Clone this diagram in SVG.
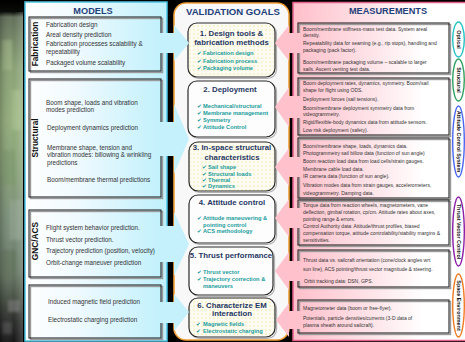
<svg xmlns="http://www.w3.org/2000/svg" width="465" height="342" viewBox="0 0 465 342">
  <defs>
    <style>
      .ptitle { font-family: 'Liberation Sans', Arial, sans-serif; font-weight: bold; font-size: 9.2px; fill: #1f3f7a; text-anchor: middle; }
      .mtxt { font-family: 'Liberation Sans', Arial, sans-serif; font-size: 6.3px; fill: #333; }
      .stxt { font-family: 'Liberation Sans', Arial, sans-serif; font-size: 5px; fill: #333; }
      .seclbl { font-family: 'Liberation Sans', Arial, sans-serif; font-weight: bold; font-size: 8.3px; fill: #111; text-anchor: middle; }
      .gtitle { font-family: 'Liberation Sans', Arial, sans-serif; font-weight: bold; font-size: 7.8px; fill: #1f3864; text-anchor: middle; }
      .gitem { font-family: 'Liberation Sans', Arial, 'DejaVu Sans', sans-serif; font-weight: bold; font-size: 5.7px; fill: #1a9c9c; }
      .chk { font-family: 'DejaVu Sans', sans-serif; font-size: 5.6px; fill: #1a9c9c; }
      .box { fill: none; stroke: #262626; stroke-width: 1.1; }
      .shadow { fill: none; stroke: #9a9a9a; stroke-width: 1.4; }
      .goal { stroke: #2a2a2a; stroke-width: 1.2; }
      .goalshadow { fill: none; stroke: #b0b0b0; stroke-width: 1.2; }
      .ovl { fill: #fff; stroke-width: 1.4; }
      .ovltxt { font-family: 'Liberation Sans', Arial, sans-serif; font-weight: bold; font-size: 5.4px; fill: #111; text-anchor: middle; }
      .cyan { fill: #c4f1fc; }
      .pink { fill: #ffc2cc; }
    </style>
    <linearGradient id="stripGrad" x1="0" y1="0" x2="0" y2="1">
      <stop offset="0" stop-color="#000"/>
      <stop offset="0.035" stop-color="#0a0c08"/>
      <stop offset="0.05" stop-color="#62705a"/>
      <stop offset="0.2" stop-color="#8aa276"/>
      <stop offset="0.35" stop-color="#94ae7c"/>
      <stop offset="0.5" stop-color="#87a078"/>
      <stop offset="0.68" stop-color="#788c78"/>
      <stop offset="0.8" stop-color="#687866"/>
      <stop offset="0.88" stop-color="#444c40"/>
      <stop offset="0.94" stop-color="#2a2c2a"/>
      <stop offset="1" stop-color="#161616"/>
    </linearGradient>
    <linearGradient id="stripShade" x1="0" y1="0" x2="1" y2="0">
      <stop offset="0" stop-color="#000" stop-opacity="0.2"/>
      <stop offset="0.6" stop-color="#fff" stop-opacity="0"/>
      <stop offset="1" stop-color="#fff" stop-opacity="0.18"/>
    </linearGradient>
    <linearGradient id="modelsGrad" x1="0" y1="0" x2="1" y2="0">
      <stop offset="0" stop-color="#ffffff"/>
      <stop offset="0.35" stop-color="#f0fafe"/>
      <stop offset="1" stop-color="#bff0fc"/>
    </linearGradient>
    <linearGradient id="measGrad" x1="0" y1="0" x2="1" y2="0">
      <stop offset="0" stop-color="#ffbfca"/>
      <stop offset="0.45" stop-color="#fde4e9"/>
      <stop offset="0.75" stop-color="#ffffff"/>
      <stop offset="1" stop-color="#ffffff"/>
    </linearGradient>
    <pattern id="dots" width="4" height="4" patternUnits="userSpaceOnUse">
      <rect width="4" height="4" fill="#fcfbf2"/>
      <circle cx="2" cy="2" r="0.55" fill="#e9d65a"/>
    </pattern>
    <filter id="soft" x="-20%" y="-5%" width="140%" height="110%">
      <feGaussianBlur stdDeviation="1.6"/>
    </filter>
  </defs>

  <!-- backdrop -->
  <rect width="465" height="342" fill="#000"/>
  <g id="photo-strip">
    <rect x="0" y="0" width="23" height="342" fill="url(#stripGrad)"/>
    <g filter="url(#soft)" opacity="0.55">
      <rect x="2" y="40" width="10" height="30" fill="#a6bc8a"/>
      <rect x="12" y="90" width="9" height="40" fill="#aec494"/>
      <rect x="3" y="150" width="12" height="35" fill="#7a9668"/>
      <rect x="10" y="200" width="11" height="40" fill="#98a896"/>
      <rect x="2" y="250" width="14" height="30" fill="#5e7056"/>
      <rect x="8" y="300" width="12" height="12" fill="#808080"/>
      <rect x="2" y="322" width="10" height="12" fill="#5a5a5a"/>
    </g>
    <rect x="0" y="12" width="23" height="330" fill="url(#stripShade)"/>
  </g>

  <!-- MODELS column -->
  <g id="models-panel">
    <rect x="25" y="2" width="142" height="339" fill="url(#modelsGrad)" stroke="#4cc4e4" stroke-width="1.5"/>
    <text class="ptitle" x="93" y="14">MODELS</text>
  </g>

  <g id="model-fabrication">
    <rect class="shadow" x="30.5" y="18.5" width="132" height="54"/>
    <rect class="box" x="29" y="17" width="132" height="54"/>
    <text class="seclbl" transform="translate(38 44) rotate(-90)">Fabrication</text>
    <text class="mtxt" x="46" y="26.5">Fabrication design</text>
    <text class="mtxt" x="46" y="36.5">Areal density prediction</text>
    <text class="mtxt" x="46" y="46">Fabrication processes scalability &amp;</text>
    <text class="mtxt" x="46" y="54">repeatability</text>
    <text class="mtxt" x="46" y="65">Packaged volume scalability</text>
  </g>

  <g id="model-structural">
    <rect class="shadow" x="30.5" y="80.5" width="132" height="118"/>
    <rect class="box" x="29" y="79" width="132" height="118"/>
    <text class="seclbl" transform="translate(38 138) rotate(-90)">Structural</text>
    <text class="mtxt" x="46" y="105">Boom shape, loads and vibration</text>
    <text class="mtxt" x="46" y="111.5">modes prediction</text>
    <text class="mtxt" x="47" y="130">Deployment dynamics prediction</text>
    <text class="mtxt" x="47" y="150">Membrane shape, tension and</text>
    <text class="mtxt" x="47" y="157">vibration modes: billowing &amp; wrinkling</text>
    <text class="mtxt" x="47" y="164.5">predictions</text>
    <text class="mtxt" x="47" y="182">Boom/membrane thermal predictions</text>
  </g>

  <g id="model-gnc-acs">
    <rect class="shadow" x="30.5" y="211.5" width="132" height="67"/>
    <rect class="box" x="29" y="210" width="132" height="67"/>
    <text class="seclbl" transform="translate(38 241) rotate(-90)">GNC/ACS</text>
    <text class="mtxt" x="46" y="230">Flight system behavior prediction.</text>
    <text class="mtxt" x="46" y="242">Thrust vector prediction.</text>
    <text class="mtxt" x="46" y="253">Trajectory prediction (position, velocity)</text>
    <text class="mtxt" x="46" y="264.5">Orbit-change maneuver prediction</text>
  </g>

  <g id="model-em">
    <rect class="shadow" x="30.5" y="286.5" width="132" height="53"/>
    <rect class="box" x="29" y="285" width="132" height="53"/>
    <text class="mtxt" x="48" y="304">Induced magnetic field prediction</text>
    <text class="mtxt" x="48" y="322">Electrostatic charging prediction</text>
  </g>

  <!-- VALIDATION GOALS column -->
  <g id="validation-panel">
    <rect x="174" y="3" width="115" height="337" rx="12" fill="#f8f8f8" stroke="#f2a038" stroke-width="1.6"/>
    <text class="ptitle" x="233" y="14.5" style="font-size:9.6px">VALIDATION GOALS</text>
  </g>

  <g id="goal-1">
    <rect class="goalshadow" x="189.5" y="24.5" width="87" height="54" rx="9"/>
    <rect class="goal" x="188" y="23" width="87" height="54" rx="9" fill="url(#dots)"/>
    <text class="gtitle" x="231.5" y="36">1. Design tools &amp;</text>
    <text class="gtitle" x="231.5" y="45">fabrication methods</text>
    <text class="chk" x="197" y="55">✔</text><text class="gitem" x="203" y="55">Fabrication design</text>
    <text class="chk" x="197" y="63">✔</text><text class="gitem" x="203" y="63">Fabrication process</text>
    <text class="chk" x="197" y="70">✔</text><text class="gitem" x="203" y="70">Packaging volume</text>
  </g>

  <g id="goal-2">
    <rect class="goalshadow" x="189.5" y="82.5" width="87" height="56" rx="9"/>
    <rect class="goal" x="188" y="81" width="87" height="56" rx="9" fill="#fdfdfd"/>
    <text class="gtitle" x="230" y="92">2. Deployment</text>
    <text class="chk" x="197" y="108">✔</text><text class="gitem" x="203" y="108">Mechanical/structural</text>
    <text class="chk" x="197" y="115">✔</text><text class="gitem" x="203" y="115">Membrane management</text>
    <text class="chk" x="197" y="122">✔</text><text class="gitem" x="203" y="122">Symmetry</text>
    <text class="chk" x="197" y="129">✔</text><text class="gitem" x="203" y="129">Attitude Control</text>
  </g>

  <g id="goal-3">
    <rect class="goalshadow" x="190.5" y="143.5" width="86" height="49" rx="9"/>
    <rect class="goal" x="189" y="142" width="86" height="49" rx="9" fill="url(#dots)"/>
    <text class="gtitle" x="232" y="150">3. In-space structural</text>
    <text class="gtitle" x="232" y="160">characteristics</text>
    <text class="chk" x="202" y="169">✔</text><text class="gitem" x="208" y="169">Sail shape</text>
    <text class="chk" x="202" y="176">✔</text><text class="gitem" x="208" y="176">Structural loads</text>
    <text class="chk" x="202" y="182">✔</text><text class="gitem" x="208" y="182">Thermal</text>
    <text class="chk" x="202" y="188">✔</text><text class="gitem" x="208" y="188">Dynamics</text>
  </g>

  <g id="goal-4">
    <rect class="goalshadow" x="190.5" y="196.5" width="86" height="48" rx="9"/>
    <rect class="goal" x="189" y="195" width="86" height="48" rx="9" fill="#fdfdfd"/>
    <text class="gtitle" x="232" y="205">4. Attitude control</text>
    <text class="chk" x="197" y="220">✔</text><text class="gitem" x="203" y="220">Attitude maneuvering &amp;</text>
    <text class="gitem" x="203" y="226.5">pointing control</text>
    <text class="chk" x="197" y="233">✔</text><text class="gitem" x="203" y="233">ACS methodology</text>
  </g>

  <g id="goal-5">
    <rect class="goalshadow" x="190.5" y="248.5" width="84" height="48" rx="9"/>
    <rect class="goal" x="189" y="247" width="84" height="48" rx="9" fill="#fdfdfd"/>
    <text class="gtitle" x="231" y="258">5. Thrust performance</text>
    <text class="chk" x="197" y="274">✔</text><text class="gitem" x="203" y="274">Thrust vector</text>
    <text class="chk" x="197" y="281">✔</text><text class="gitem" x="203" y="281">Trajectory correction &amp;</text>
    <text class="gitem" x="203" y="288">maneuvers</text>
  </g>

  <g id="goal-6">
    <rect class="goalshadow" x="190.5" y="299.5" width="86" height="39" rx="9"/>
    <rect class="goal" x="189" y="298" width="86" height="39" rx="9" fill="url(#dots)"/>
    <text class="gtitle" x="232" y="308">6. Characterize EM</text>
    <text class="gtitle" x="232" y="316">interaction</text>
    <text class="chk" x="196" y="326">✔</text><text class="gitem" x="203" y="326">Magnetic fields</text>
    <text class="chk" x="196" y="332.5">✔</text><text class="gitem" x="203" y="332.5">Electrostatic charging</text>
  </g>

  <!-- MEASUREMENTS column -->
  <g id="measurements-panel">
    <rect x="293" y="2.5" width="175" height="338" fill="url(#measGrad)" stroke="#e2608a" stroke-width="1.5"/>
    <text class="ptitle" x="388" y="14">MEASUREMENTS</text>
  </g>

  <g id="meas-1">
    <rect class="shadow" x="299.5" y="24.5" width="151" height="50"/>
    <rect class="box" x="298" y="23" width="151" height="50"/>
    <text class="stxt" x="303" y="31.3">Boom/membrane stiffness-mass test data. System areal</text>
    <text class="stxt" x="303" y="37">density.</text>
    <text class="stxt" x="303" y="44.7">Repeatability data for seaming (e.g., rip stops), handling and</text>
    <text class="stxt" x="303" y="51.5">packaging (pack factor).</text>
    <text class="stxt" x="303" y="64">Boom/membrane packaging volume – scalable to larger</text>
    <text class="stxt" x="303" y="70.5">sails.  Ascent venting test data.</text>
  </g>

  <g id="meas-2">
    <rect class="shadow" x="299.5" y="79.5" width="151" height="57"/>
    <rect class="box" x="298" y="78" width="151" height="57"/>
    <text class="stxt" x="303" y="85.3">Boom deployment rates, dynamics, symmetry. Boom/sail</text>
    <text class="stxt" x="303" y="92">shape for flight using ODS.</text>
    <text class="stxt" x="303" y="101">Deployment forces (sail tensions).</text>
    <text class="stxt" x="303" y="109.7">Boom/membrane deployment symmetry data from</text>
    <text class="stxt" x="303" y="116">videogrammetry.</text>
    <text class="stxt" x="303" y="124.3">Rigid/flexible-body dynamics data from attitude sensors.</text>
    <text class="stxt" x="303" y="132">Low risk deployment (safety).</text>
  </g>

  <g id="meas-3">
    <rect class="shadow" x="299.5" y="139.5" width="151" height="60"/>
    <rect class="box" x="298" y="138" width="151" height="60"/>
    <text class="stxt" x="303" y="148">Boom/membrane shape, loads, dynamics data.</text>
    <text class="stxt" x="303" y="155.3">Photogrammetry sail billow data (function of sun angle)</text>
    <text class="stxt" x="303" y="163">Boom reaction load data from load cells/strain gauges.</text>
    <text class="stxt" x="303" y="171">Membrane cable load data.</text>
    <text class="stxt" x="303" y="178">IR camera data (function of sun angle).</text>
    <text class="stxt" x="303" y="187">Vibration modes data from strain gauges, accelerometers,</text>
    <text class="stxt" x="303" y="195">videogrammetry.  Damping data.</text>
  </g>

  <g id="meas-4">
    <rect class="shadow" x="299.5" y="201.5" width="151" height="45"/>
    <rect class="box" x="298" y="200" width="151" height="45"/>
    <text class="stxt" x="303" y="207">Torque data from reaction wheels, magnetometers, vane</text>
    <text class="stxt" x="303" y="213.7">deflection, gimbal rotation, cp/cm. Attitude rates about axes,</text>
    <text class="stxt" x="303" y="221">pointing range &amp; errors.</text>
    <text class="stxt" x="303" y="227.7">Control Authority data: Attitude/thrust profiles, biased</text>
    <text class="stxt" x="303" y="234.7">compensation torque, attitude controlability/stability margins &amp;</text>
    <text class="stxt" x="303" y="242">sensitivities.</text>
  </g>

  <g id="meas-5">
    <rect class="shadow" x="299.5" y="251.5" width="151" height="37"/>
    <rect class="box" x="298" y="250" width="151" height="37"/>
    <text class="stxt" x="303" y="262">Thrust data vs. sailcraft orientation (cone/clock angles wrt</text>
    <text class="stxt" x="303" y="271">sun line), ACS pointing/thrust vector magnitude &amp; steering.</text>
    <text class="stxt" x="304" y="283">Orbit tracking data: DSN, GPS.</text>
  </g>

  <g id="meas-6">
    <rect class="shadow" x="299.5" y="301.5" width="151" height="33"/>
    <rect class="box" x="298" y="300" width="151" height="33"/>
    <text class="stxt" x="303" y="309.7">Magnetometer data (boom or free-flyer).</text>
    <text class="stxt" x="303" y="319.7">Potentials, particle densities/currents (3-D data of</text>
    <text class="stxt" x="303" y="327">plasma sheath around sailcraft).</text>
  </g>

  <!-- discipline tags -->
  <g id="tag-optical">
    <ellipse class="ovl" cx="458.5" cy="39.5" rx="5.8" ry="17.5" stroke="#22c2c2"/>
    <text class="ovltxt" transform="translate(456.6 39.5) rotate(90)">Optical</text>
  </g>
  <g id="tag-structural">
    <ellipse class="ovl" cx="458.5" cy="80" rx="5.8" ry="21" stroke="#2fa060"/>
    <text class="ovltxt" transform="translate(456.6 80) rotate(90)">Structural</text>
  </g>
  <g id="tag-acs">
    <ellipse class="ovl" cx="458.5" cy="141.5" rx="5.8" ry="35.5" stroke="#4a66f0"/>
    <text class="ovltxt" transform="translate(456.6 141.5) rotate(90)">Attitude Control System</text>
  </g>
  <g id="tag-tvc">
    <ellipse class="ovl" cx="458.5" cy="231.5" rx="5.8" ry="34.5" stroke="#8a1ea6"/>
    <text class="ovltxt" transform="translate(456.6 231.5) rotate(90)">Thrust Vector Control</text>
  </g>
  <g id="tag-space-env">
    <ellipse class="ovl" cx="458.5" cy="305.5" rx="5.8" ry="31.5" stroke="#f07a22"/>
    <text class="ovltxt" transform="translate(456.6 305.5) rotate(90)">Space Environment</text>
  </g>

  <!-- connectors: block arrows from models and measurements into goals -->
  <g id="connectors">
    <polygon class="cyan" points="159,33 174,33 174,25 189,43 174,61 174,53 159,53"/>
    <polygon class="cyan" points="159,122 174,122 174,104 189,139 174,174 174,156 159,156"/>
    <polygon class="cyan" points="159,226 174,226 174,212 189,244 174,276 174,262 159,262"/>
    <polygon class="cyan" points="159,302 174,302 174,294 189,312 174,331 174,323 159,323"/>

    <polygon class="pink" points="301,33 289,33 289,25 275,43 289,61 289,53 301,53"/>
    <polygon class="pink" points="301,96 289,96 289,87 275,107 289,127 289,118 301,118"/>
    <polygon class="pink" points="301,157 289,157 289,148 275,167 289,186 289,177 301,177"/>
    <polygon class="pink" points="301,208 289,208 289,199 275,218 289,237 289,228 301,228"/>
    <polygon class="pink" points="301,261 289,261 289,252 275,271 289,290 289,281 301,281"/>
    <polygon class="pink" points="301,311 289,311 289,303 276,320 289,337 289,329 301,329"/>
  </g>
</svg>
